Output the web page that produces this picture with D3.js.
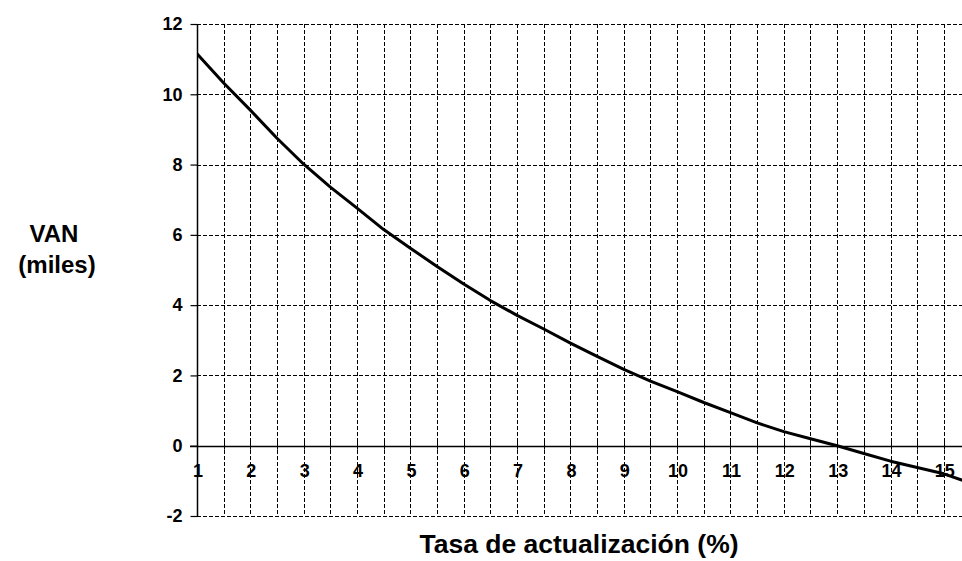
<!DOCTYPE html>
<html>
<head>
<meta charset="utf-8">
<script src="https://cdn.jsdelivr.net/npm/d3@7"></script>
<style>
  body { margin: 0; background: #fff; }
  text { font-family: "Liberation Sans", Arial, sans-serif; font-weight: bold; fill: #000; }
</style>
</head>
<body>
<svg id="chart" width="962" height="561"></svg>
<script>
// Tasa de actualización (%) and VAN (miles)
const rates = [1, 1.5, 2, 2.5, 3, 3.5, 4, 4.5, 5, 5.5, 6, 6.5, 7, 7.5, 8, 8.5,
  9, 9.5, 10, 10.5, 11, 11.5, 12, 12.5, 13, 13.5, 14, 14.5, 15, 15.5];
const van = [11.15, 10.32, 9.55, 8.75, 8.01, 7.36, 6.76, 6.15, 5.62, 5.1, 4.6, 4.13,
  3.71, 3.32, 2.92, 2.54, 2.17, 1.84, 1.54, 1.23, 0.94, 0.65, 0.4, 0.2, 0.0, -0.22,
  -0.44, -0.62, -0.8, -1.06];
const xTickLabels = d3.range(1, 16);
const xGrid = d3.range(1, 15.01, 0.5);
const yTicks = [-2, 0, 2, 4, 6, 8, 10, 12];

const svg = d3.select('#chart');
const plotL = 197, plotR = 962, plotT = 24, plotB = 516;

const x = d3.scaleLinear().domain([1, 15.34]).range([plotL, plotR]);
const y = d3.scaleLinear().domain([-2, 12]).range([plotB, plotT]);

svg.append('defs').append('clipPath').attr('id', 'plot')
  .append('rect').attr('x', plotL).attr('y', 0).attr('width', plotR - plotL).attr('height', 561);

// x labels sit just under the zero line
svg.append('g')
  .selectAll('text')
  .data(xTickLabels)
  .join('text')
  .attr('x', d => x(d) + 1)
  .attr('y', y(0) + 31)
  .attr('text-anchor', 'middle')
  .style('font-size', '18px')
  .text(d => d);

// dashed grid
const grid = svg.append('g')
  .attr('stroke', '#000')
  .attr('stroke-width', 1)
  .attr('stroke-dasharray', '4,2');

grid.selectAll('.v')
  .data(xGrid.filter(d => d > 1))
  .join('line')
  .attr('x1', d => Math.round(x(d)) + 0.5)
  .attr('x2', d => Math.round(x(d)) + 0.5)
  .attr('y1', plotT)
  .attr('y2', plotB);

grid.selectAll('.h')
  .data(yTicks.filter(d => d !== 0))
  .join('line')
  .attr('x1', plotL)
  .attr('x2', plotR)
  .attr('y1', d => Math.round(y(d)) + 0.5)
  .attr('y2', d => Math.round(y(d)) + 0.5);

// y axis
const yAxis = svg.append('g')
  .attr('transform', `translate(${plotL + 0.5},0)`)
  .call(d3.axisLeft(y).tickValues(yTicks).tickFormat(d => String(d)).tickSize(7).tickPadding(8));
yAxis.select('.domain').attr('stroke', '#000').attr('stroke-width', 1.5)
  .attr('d', `M0,${plotT}V${plotB}`);
yAxis.selectAll('.tick line').attr('stroke', '#000').attr('stroke-width', 1.2);
yAxis.selectAll('.tick text').style('font-size', '18px')
  .style('font-family', '"Liberation Sans", Arial, sans-serif').style('font-weight', 'bold');

// zero line with small ticks
svg.append('line')
  .attr('x1', plotL - 7).attr('x2', plotR)
  .attr('y1', Math.round(y(0)) + 0.5).attr('y2', Math.round(y(0)) + 0.5)
  .attr('stroke', '#000').attr('stroke-width', 1.5);
svg.append('g').selectAll('line')
  .data(xGrid)
  .join('line')
  .attr('x1', d => Math.round(x(d)) + 0.5)
  .attr('x2', d => Math.round(x(d)) + 0.5)
  .attr('y1', y(0) - 4)
  .attr('y2', y(0) + 4)
  .attr('stroke', '#000');

// curve
svg.append('path')
  .datum(rates.map((r, i) => [r, van[i]]))
  .attr('clip-path', 'url(#plot)')
  .attr('fill', 'none')
  .attr('stroke', '#000')
  .attr('stroke-width', 3)
  .attr('stroke-linejoin', 'round')
  .attr('d', d3.line().x(d => x(d[0])).y(d => y(d[1])));

// titles
svg.append('text')
  .attr('x', 579).attr('y', 553)
  .attr('text-anchor', 'middle')
  .style('font-size', '26.5px')
  .text('Tasa de actualización (%)');

const yt = svg.append('text')
  .attr('x', 55).attr('y', 242)
  .attr('text-anchor', 'middle')
  .style('font-size', '24px');
yt.append('tspan').attr('x', 54).text('VAN');
yt.append('tspan').attr('x', 57).attr('dy', 31).text('(miles)');
</script>
</body>
</html>
